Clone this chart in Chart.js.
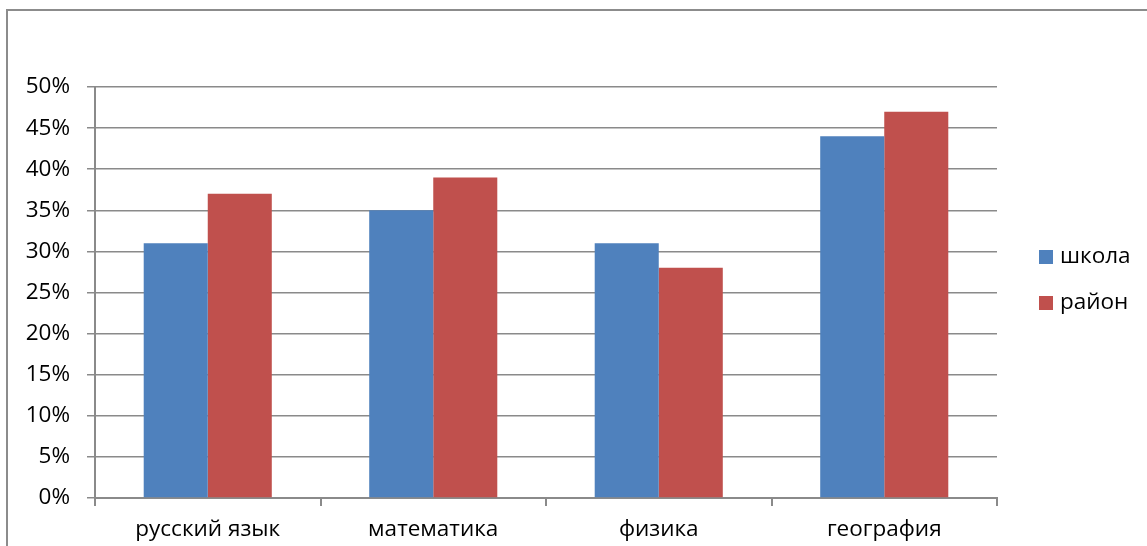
<!DOCTYPE html>
<html lang="ru">
<head>
    <meta charset="UTF-8">
    <title>школа / район</title>
    <style>
        html, body {
            margin: 0;
            padding: 0;
            background: #fff;
            overflow: hidden;
        }
        #wrap {
            position: relative;
            width: 1147px;
            height: 546px;
        }
        #frame {
            position: absolute;
            left: 6px;
            top: 9px;
            width: 1200px;
            height: 600px;
            border-left: 2px solid #8c8c8c;
            border-top: 2px solid #8c8c8c;
            pointer-events: none;
        }
    </style>
    <script src="https://cdn.jsdelivr.net/npm/chart.js"></script>
</head>
<body>
<div id="wrap">
    <canvas id="chart" width="1147" height="546"></canvas>
    <div id="frame"></div>
</div>
<script>
    // data
    const categories = ['русский язык', 'математика', 'физика', 'география'];
    const school = [31, 35, 31, 44];
    const district = [37, 39, 28, 47];
    const seriesNames = ['школа', 'район'];

    const FONT = '"Open Sans", "DejaVu Sans", sans-serif';
    const FONT_SIZE = 22.5;
    const gridColor = '#8a8a8a';

    // legend drawn on the right, like in the original
    const sideLegend = {
        id: 'sideLegend',
        afterDraw(chart) {
            const ctx = chart.ctx;
            ctx.save();
            ctx.font = FONT_SIZE + 'px ' + FONT;
            ctx.textBaseline = 'middle';
            chart.data.datasets.forEach((ds, i) => {
                const y = 257 + i * 46;
                ctx.fillStyle = ds.backgroundColor;
                ctx.fillRect(1039, y - 7, 14, 14);
                ctx.fillStyle = '#000';
                ctx.fillText(ds.label, 1060, y);
            });
            ctx.restore();
        }
    };

    new Chart(document.getElementById('chart'), {
        type: 'bar',
        data: {
            labels: categories,
            datasets: [
                { label: seriesNames[0], data: school, backgroundColor: '#4F81BD' },
                { label: seriesNames[1], data: district, backgroundColor: '#C0504D' }
            ]
        },
        options: {
            responsive: false,
            animation: false,
            maintainAspectRatio: false,
            layout: { padding: { top: 87, right: 150, left: 0, bottom: 0 } },
            datasets: {
                bar: { categoryPercentage: 0.568, barPercentage: 1.0 }
            },
            scales: {
                x: {
                    afterFit(scale) { scale.height = 48; },
                    grid: {
                        drawOnChartArea: false,
                        drawTicks: true,
                        tickLength: 8,
                        color: gridColor,
                        lineWidth: 2
                    },
                    border: { color: gridColor, width: 2 },
                    ticks: {
                        color: '#000',
                        font: { family: FONT, size: FONT_SIZE },
                        padding: 10,
                        maxRotation: 0
                    }
                },
                y: {
                    min: 0,
                    max: 50,
                    afterFit(scale) { scale.width = 95; },
                    grid: {
                        color: gridColor,
                        lineWidth: 1.5,
                        tickLength: 8
                    },
                    border: { color: gridColor, width: 2 },
                    ticks: {
                        stepSize: 5,
                        color: '#000',
                        padding: 17,
                        font: { family: FONT, size: FONT_SIZE },
                        callback: v => v + '%'
                    }
                }
            },
            plugins: {
                legend: { display: false },
                tooltip: { enabled: false }
            }
        },
        plugins: [sideLegend]
    });
</script>
</body>
</html>
